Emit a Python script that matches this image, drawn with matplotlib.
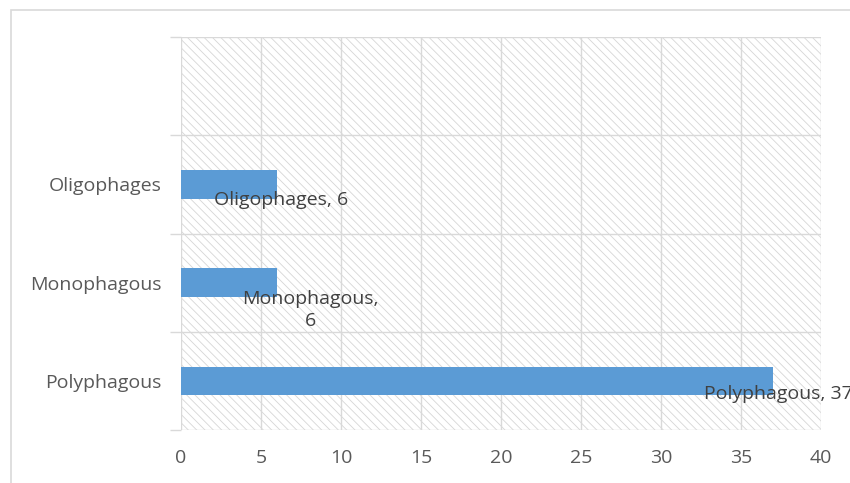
import matplotlib
matplotlib.use("Agg")
import matplotlib.pyplot as plt
from matplotlib.patches import Rectangle

categories = ["Polyphagous", "Monophagous", "Oligophages", ""]
values = [37, 6, 6, None]
label_texts = ["Polyphagous, 37", "Monophagous,\n6", "Oligophages, 6", None]
x_ticks = [0, 5, 10, 15, 20, 25, 30, 35, 40]

plt.rcParams['font.family'] = ['Open Sans', 'DejaVu Sans']
plt.rcParams['hatch.linewidth'] = 0.6

W, H = 850, 483
fig = plt.figure(figsize=(W / 100, H / 100), dpi=100)
fig.patch.set_facecolor('white')

# outer chart border
fig.patches.append(Rectangle((11 / W, -0.1), 1.2, 1 - 10 / H + 0.1, transform=fig.transFigure,
                             fill=False, edgecolor='#d9d9d9', linewidth=1.2, zorder=0))

left, right, top, bottom = 181, 821, 37, 430
ax = fig.add_axes([left / W, 1 - bottom / H, (right - left) / W, (bottom - top) / H])

ax.patch.set_facecolor('white')
ax.patch.set_hatch('\\\\\\\\')
ax.patch.set_edgecolor('#d6d6d6')
ax.patch.set_linewidth(0)

ypos = list(range(len(categories)))
for y, v in zip(ypos, values):
    if v is not None:
        ax.barh(y, v, height=0.29, color='#5b9bd5', zorder=3)

FS = 14
ax.set_xlim(0, 40)
ax.set_ylim(-0.5, len(categories) - 0.5)
ax.set_xticks(x_ticks)
ax.set_xticklabels([str(t) for t in x_ticks])
ax.tick_params(axis='x', length=0, pad=14, labelsize=FS, labelcolor='#595959')

# category boundaries as major ticks, labels as minor
ax.set_yticks([i - 0.5 for i in range(len(categories) + 1)])
ax.set_yticklabels([])
ax.set_yticks(ypos, minor=True)
ax.set_yticklabels(categories, minor=True)
ax.tick_params(axis='y', which='major', length=8, color='#d9d9d9', width=1)
ax.tick_params(axis='y', which='minor', length=0, pad=14, labelsize=FS, labelcolor='#595959')

ax.grid(True, which='major', color='#d9d9d9', linewidth=1, zorder=1)
ax.set_axisbelow(True)
for s in ax.spines.values():
    s.set_visible(False)

offsets = [(5, -13), (33, -27), (4, -16), None]
for y, v, t, off in zip(ypos, values, label_texts, offsets):
    if v is None:
        continue
    ax.annotate(t, xy=(v, y), xytext=off, textcoords='offset pixels',
                ha='center', va='center', fontsize=FS, color='#404040',
                zorder=5, annotation_clip=False, linespacing=1.3)

fig.savefig("out.png", dpi=100)
